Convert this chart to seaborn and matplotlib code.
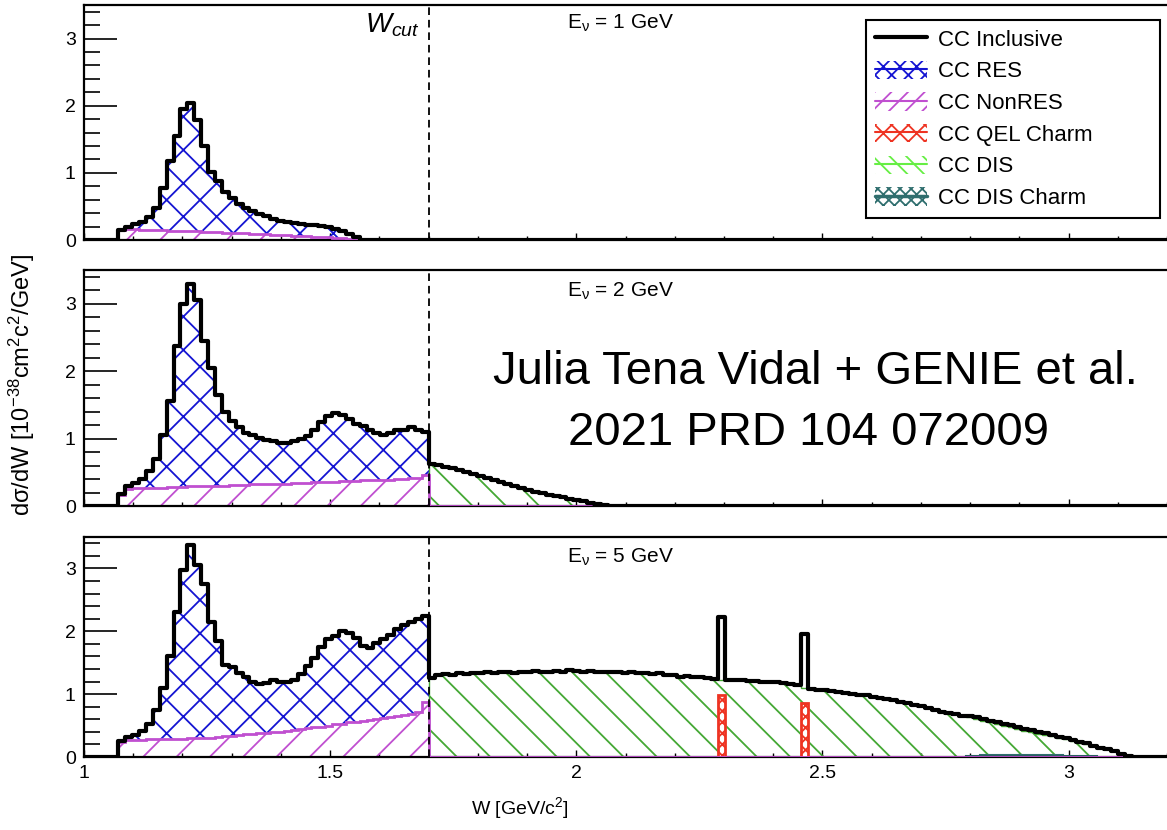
import numpy as np
import pandas as pd
import matplotlib
matplotlib.use("Agg")
import matplotlib.pyplot as plt
import seaborn as sns
from matplotlib.patches import Patch
from matplotlib.lines import Line2D
from matplotlib.legend_handler import HandlerTuple
from matplotlib.ticker import MultipleLocator, FixedLocator, FuncFormatter

# ---------------- data ----------------
W_MIN = 1.0
BIN_W = 0.014
N_BINS = 158
W_CUT = 1.7
CUT_BIN = 50          # first bin above W_cut
LOW_FIRST_BIN = 5     # first non-empty bin
DIS_CHARM_FIRST_BIN = 128

ENERGIES = ["1", "2", "5"]

# Eν = 1 GeV : total below W_cut (RES + NonRES) and NonRES, bins 5..39
E1_TOTAL_LOW = [0.15, 0.20, 0.24, 0.27, 0.34, 0.47, 0.78, 1.18, 1.55, 1.95,
                2.04, 1.78, 1.40, 1.02, 0.88, 0.72, 0.62, 0.53, 0.47, 0.43,
                0.39, 0.35, 0.32, 0.29, 0.27, 0.25, 0.24, 0.23, 0.22, 0.21,
                0.20, 0.17, 0.14, 0.09, 0.04]
E1_NONRES = [0.15, 0.16, 0.16, 0.155, 0.15, 0.15, 0.145, 0.14, 0.14, 0.135,
             0.13, 0.13, 0.125, 0.12, 0.115, 0.11, 0.11, 0.105, 0.10, 0.095,
             0.09, 0.085, 0.08, 0.075, 0.07, 0.065, 0.06, 0.055, 0.05, 0.045,
             0.04, 0.035, 0.03, 0.02, 0.01]
E1_DIS = []

# Eν = 2 GeV : bins 5..49, DIS bins 50..75
E2_TOTAL_LOW = [0.18, 0.30, 0.34, 0.40, 0.52, 0.70, 1.05, 1.55, 2.38, 3.00,
                3.29, 3.05, 2.45, 2.05, 1.65, 1.40, 1.26, 1.17, 1.09, 1.05,
                1.01, 0.98, 0.96, 0.94, 0.93, 0.96, 1.00, 1.04, 1.12, 1.24,
                1.34, 1.38, 1.35, 1.29, 1.22, 1.18, 1.13, 1.08, 1.06, 1.09,
                1.12, 1.13, 1.17, 1.13, 1.10]
E2_NONRES = [0.16, 0.25, 0.26, 0.26, 0.27, 0.27, 0.27, 0.28, 0.28, 0.28,
             0.29, 0.29, 0.29, 0.30, 0.30, 0.30, 0.31, 0.31, 0.31, 0.32,
             0.32, 0.32, 0.33, 0.33, 0.33, 0.34, 0.34, 0.34, 0.35, 0.35,
             0.36, 0.36, 0.37, 0.37, 0.37, 0.38, 0.38, 0.38, 0.39, 0.39,
             0.40, 0.40, 0.41, 0.42, 0.46]
E2_DIS = [0.63, 0.61, 0.585, 0.56, 0.54, 0.51, 0.48, 0.45, 0.42, 0.385,
          0.35, 0.32, 0.29, 0.26, 0.235, 0.21, 0.19, 0.17, 0.15, 0.13,
          0.11, 0.09, 0.07, 0.05, 0.03, 0.015]

# Eν = 5 GeV : bins 5..49, DIS bins 50..151
E3_TOTAL_LOW = [0.26, 0.32, 0.35, 0.42, 0.52, 0.75, 1.10, 1.60, 2.30, 2.98,
                3.38, 3.05, 2.75, 2.15, 1.85, 1.47, 1.43, 1.34, 1.27, 1.20,
                1.16, 1.17, 1.23, 1.19, 1.20, 1.22, 1.32, 1.45, 1.58, 1.75,
                1.87, 1.93, 2.00, 1.98, 1.90, 1.77, 1.74, 1.82, 1.87, 1.94,
                2.04, 2.10, 2.14, 2.19, 2.25]
E3_NONRES = [0.24, 0.27, 0.27, 0.27, 0.28, 0.28, 0.28, 0.29, 0.29, 0.29,
             0.30, 0.30, 0.31, 0.31, 0.32, 0.33, 0.34, 0.35, 0.36, 0.37,
             0.38, 0.38, 0.39, 0.40, 0.41, 0.43, 0.44, 0.46, 0.47, 0.48,
             0.50, 0.52, 0.53, 0.55, 0.56, 0.58, 0.59, 0.61, 0.62, 0.64,
             0.66, 0.67, 0.69, 0.72, 0.88]
E3_DIS = [1.26, 1.30, 1.32, 1.31, 1.33, 1.32, 1.34, 1.33, 1.35, 1.34,
          1.35, 1.36, 1.34, 1.36, 1.35, 1.37, 1.36, 1.36, 1.37, 1.36,
          1.38, 1.37, 1.36, 1.37, 1.35, 1.36, 1.35, 1.36, 1.34, 1.35,
          1.33, 1.34, 1.32, 1.33, 1.30, 1.31, 1.28, 1.29, 1.27, 1.28,
          1.25, 1.24, 1.23, 1.23, 1.22, 1.22, 1.21, 1.21, 1.20, 1.19,
          1.19, 1.17, 1.16, 1.15, 1.10, 1.08, 1.07, 1.06, 1.05, 1.03,
          1.02, 1.01, 0.99, 0.98, 0.96, 0.94, 0.93, 0.90, 0.88, 0.86,
          0.83, 0.81, 0.78, 0.75, 0.72, 0.70, 0.68, 0.65, 0.63, 0.61,
          0.58, 0.55, 0.52, 0.50, 0.48, 0.45, 0.42, 0.40, 0.37, 0.35,
          0.33, 0.30, 0.28, 0.25, 0.22, 0.20, 0.17, 0.15, 0.12, 0.09,
          0.05, 0.01]
E3_QEL_CHARM_BINS = [92, 104]
E3_QEL_CHARM = [0.99, 0.86]
E3_DIS_CHARM = [0.02, 0.02, 0.025, 0.025, 0.03, 0.03, 0.03, 0.03, 0.03, 0.03,
                0.03, 0.03, 0.025, 0.025, 0.02, 0.02, 0.02, 0.015, 0.01]

LEGEND_LABELS = ["CC Inclusive", "CC RES", "CC NonRES", "CC QEL Charm",
                 "CC DIS", "CC DIS Charm"]
X_TICKS = [1, 1.5, 2, 2.5, 3]
Y_TICKS = [0, 1, 2, 3]

# ---------------- style ----------------
BLUE = "#1414d2"
MAGENTA = "#c04fd0"
RED = "#ee3322"
GREEN = "#45a834"
LEG_GREEN = "#66ee44"
TEAL = "#2f6e6e"

sns.set_theme(style="ticks")
plt.rcParams.update({
    "font.family": ["Liberation Sans", "DejaVu Sans"],
    "mathtext.fontset": "custom",
    "mathtext.rm": "Liberation Sans",
    "mathtext.it": "Liberation Sans:italic",
    "mathtext.bf": "Liberation Sans:bold",
    "mathtext.sf": "Liberation Sans",
    "hatch.linewidth": 1.3,
    "lines.scale_dashes": False,
    "axes.linewidth": 1.5,
    "axes.edgecolor": "black",
    "text.color": "black",
    "axes.labelcolor": "black",
    "xtick.color": "black",
    "ytick.color": "black",
})

edges = W_MIN + BIN_W * np.arange(N_BINS + 1)
centers = 0.5 * (edges[:-1] + edges[1:])


def full(first, vals):
    arr = np.zeros(N_BINS)
    arr[first:first + len(vals)] = vals
    return arr


panels = [
    dict(total_low=E1_TOTAL_LOW, nonres=E1_NONRES, dis=E1_DIS,
         qel_bins=[], qel=[], disc=[]),
    dict(total_low=E2_TOTAL_LOW, nonres=E2_NONRES, dis=E2_DIS,
         qel_bins=[], qel=[], disc=[]),
    dict(total_low=E3_TOTAL_LOW, nonres=E3_NONRES, dis=E3_DIS,
         qel_bins=E3_QEL_CHARM_BINS, qel=E3_QEL_CHARM, disc=E3_DIS_CHARM),
]

fig = plt.figure(figsize=(11.67, 8.30), dpi=100)
W, H = 1167.0, 830.0
ax_px = [(5, 240), (270, 506), (537, 757)]   # top, bottom in pixels
axes = []
for top, bot in ax_px:
    ax = fig.add_axes([84 / W, 1 - bot / H, (W - 84) / W, (bot - top) / H])
    axes.append(ax)

first = LOW_FIRST_BIN
for i, (ax, p) in enumerate(zip(axes, panels)):
    nonres = full(first, p["nonres"])
    low_total = full(first, p["total_low"])
    res = low_total - nonres
    dis = full(CUT_BIN, p["dis"])
    qel = np.zeros(N_BINS)
    for b, v in zip(p["qel_bins"], p["qel"]):
        qel[b] = v
    disc = full(DIS_CHARM_FIRST_BIN, p["disc"])
    total = res + nonres + dis + qel + disc
    last = int(np.nonzero(total)[0].max()) + 1

    # NonRES hatch (from 0)
    ax.stairs(nonres[first:last], edges[first:last + 1], baseline=0,
              fill=True, facecolor="none", edgecolor=MAGENTA, hatch="/",
              linewidth=0)
    # RES hatch (stacked on NonRES)
    ax.stairs((nonres + res)[first:CUT_BIN], edges[first:CUT_BIN + 1],
              baseline=nonres[first:CUT_BIN], fill=True, facecolor="none",
              edgecolor=BLUE, hatch="x", linewidth=0)
    # DIS hatch
    if len(p["dis"]):
        ax.stairs(dis[CUT_BIN:last], edges[CUT_BIN:last + 1], baseline=0,
                  fill=True, facecolor="none", edgecolor=GREEN, hatch="\\",
                  linewidth=0)
        ax.stairs(dis[CUT_BIN:last], edges[CUT_BIN:last + 1], baseline=0,
                  fill=False, edgecolor=GREEN, linewidth=1.0)
    # DIS charm
    if len(p["disc"]):
        n = len(p["disc"])
        ax.stairs(disc[DIS_CHARM_FIRST_BIN:DIS_CHARM_FIRST_BIN + n],
                  edges[DIS_CHARM_FIRST_BIN:DIS_CHARM_FIRST_BIN + n + 1],
                  baseline=0, fill=True, facecolor="none", edgecolor=TEAL,
                  hatch="x", linewidth=1.5)
    # QEL charm
    if len(p["qel"]):
        qb = np.array(p["qel_bins"])
        ax.bar(centers[qb], qel[qb], width=BIN_W, facecolor="white",
               edgecolor=RED, hatch="xxx", linewidth=2.0, zorder=3)
    # NonRES outline
    ax.stairs(nonres[first:last], edges[first:last + 1], baseline=None,
              fill=False, edgecolor=MAGENTA, linewidth=2.0, zorder=3)
    # inclusive (seaborn step histogram)
    df = pd.DataFrame({"W": centers, "xsec": total})
    sns.histplot(data=df, x="W", weights="xsec", bins=list(edges),
                 element="step", fill=False, color="black", linewidth=3.0,
                 ax=ax, zorder=5)

    ax.axvline(W_CUT, color="black", linestyle=(0, (5.5, 3.5)),
               linewidth=1.3, zorder=6)

    ax.set_xlim(1.0, 3.2)
    ax.set_ylim(0, 3.5)
    ax.set_xlabel("")
    ax.set_ylabel("")
    ax.xaxis.set_major_locator(FixedLocator(X_TICKS))
    ax.xaxis.set_minor_locator(MultipleLocator(0.1))
    ax.yaxis.set_major_locator(FixedLocator(Y_TICKS))
    ax.yaxis.set_minor_locator(MultipleLocator(0.2))
    ax.xaxis.set_major_formatter(FuncFormatter(lambda v, _: "%g" % v))
    ax.yaxis.set_major_formatter(FuncFormatter(lambda v, _: "%g" % v))
    ax.tick_params(axis="y", which="major", direction="in", length=24,
                   width=1.2, labelsize=14, pad=6, colors="black")
    ax.tick_params(axis="y", which="minor", direction="in", length=11.5,
                   width=1.2)
    ax.tick_params(axis="x", which="major", direction="in", length=5,
                   width=1.0, labelsize=14, pad=6)
    ax.tick_params(axis="x", which="minor", direction="in", length=3,
                   width=1.0)
    ax.spines["right"].set_visible(False)
    for s in ["left", "bottom", "top"]:
        ax.spines[s].set_linewidth(1.6)
        ax.spines[s].set_color("black")
    if i < 2:
        ax.tick_params(axis="x", labelbottom=False)
    ax.text(1.982, 3.18 if i else 3.22,
            r"E$_{\mathrm{\nu}}$ = %s GeV" % ENERGIES[i],
            fontsize=15, ha="left", va="center")

axes[0].text(1.683, 3.2, r"$W_{cut}$", fontsize=20, ha="right", va="center")

# legend
handles = [
    Line2D([], [], color="black", lw=3),
    (Patch(facecolor="white", edgecolor=BLUE, hatch="xx", lw=0),
     Line2D([], [], color=BLUE, lw=1.5)),
    (Patch(facecolor="white", edgecolor=MAGENTA, hatch="//", lw=0),
     Line2D([], [], color=MAGENTA, lw=1.5)),
    (Patch(facecolor="white", edgecolor=RED, hatch="xx", lw=0),
     Line2D([], [], color=RED, lw=1.5)),
    (Patch(facecolor="white", edgecolor=LEG_GREEN, hatch="\\\\", lw=0),
     Line2D([], [], color=LEG_GREEN, lw=1.5)),
    (Patch(facecolor="white", edgecolor=TEAL, hatch="xxx", lw=0),
     Line2D([], [], color=TEAL, lw=2.5)),
]
leg = axes[0].legend(handles, LEGEND_LABELS,
                     handler_map={tuple: HandlerTuple(ndivide=1, pad=0)},
                     loc="upper left",
                     bbox_to_anchor=((866 - 84) / 1083, (240 - 20) / 235,
                                     (1160 - 866) / 1083, 0),
                     mode="expand", borderaxespad=0, fontsize=16,
                     handlelength=2.35, handleheight=0.9, handletextpad=0.5,
                     labelspacing=0.44, borderpad=0.4, frameon=True,
                     fancybox=False, framealpha=1, edgecolor="black")
leg.get_frame().set_linewidth(1.5)
leg.set_zorder(10)

fig.text(22 / W, 1 - 385 / H, "dσ/dW [10$^{-38}$cm$^{2}$c$^{2}$/GeV]",
         rotation=90, ha="center", va="center", fontsize=17)
fig.text(520 / W, 1 - 808 / H, "W [GeV/c$^{2}$]", ha="center", va="center",
         fontsize=14)
fig.text(815 / W, 1 - 372 / H, "Julia Tena Vidal + GENIE et al.",
         ha="center", va="center", fontsize=34)
fig.text(808 / W, 1 - 433 / H, "2021 PRD 104 072009",
         ha="center", va="center", fontsize=34)

fig.savefig("out.png", dpi=100, facecolor="white")
